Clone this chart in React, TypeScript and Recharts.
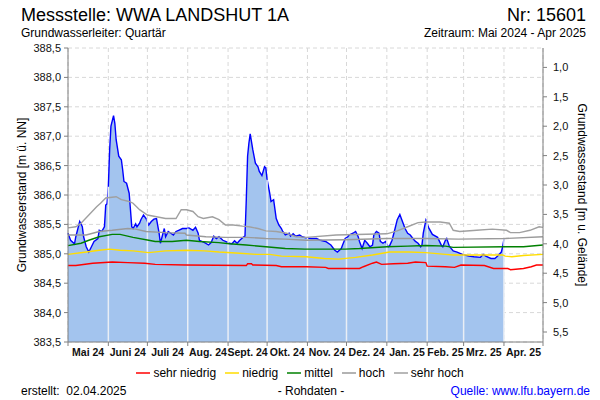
import { Area, CartesianGrid, ComposedChart, Legend, Line, ReferenceLine, XAxis, YAxis } from "recharts"

// Tag 0 = 01.05.2024, Werte in m ü. NN
const monatsAnfang = [0, 31, 61, 92, 123, 153, 184, 214, 245, 276, 304, 335, 365]
const monatsNamen = ["Mai 24", "Juni 24", "Juli 24", "Aug. 24", "Sept. 24", "Okt. 24", "Nov. 24", "Dez. 24", "Jan. 25", "Feb. 25", "Mrz. 25", "Apr. 25"]
const nnTicks = [383.5, 384, 384.5, 385, 385.5, 386, 386.5, 387, 387.5, 388, 388.5]
const gelaendeTicks = [1, 1.5, 2, 2.5, 3, 3.5, 4, 4.5, 5, 5.5]
const gelaendeHoehe = 389.17
const legendenReihenfolge = ["sehr niedrig", "niedrig", "mittel", "hoch", "sehr hoch"]

const messwerte: [number, number][] = [
  [0, 385.35], [2, 385.23], [5, 385.17], [6, 385.29], [9, 385.55], [11, 385.46], [12, 385.29], [14, 385.12],
  [16, 385.03], [18, 385.12], [20, 385.21], [23, 385.26], [24, 385.4], [26, 385.38], [28, 385.46], [29, 385.83],
  [30, 385.85], [31, 386.14], [32, 386.77], [33, 387.17], [35, 387.35], [36, 387.22], [37, 386.94], [39, 386.66],
  [41, 386.6], [42, 386.43], [43, 386.23], [45, 386.2], [47, 386.03], [48, 385.75], [49, 385.46], [50, 385.43],
  [52, 385.51], [53, 385.46], [55, 385.52], [56, 385.58], [58, 385.66], [60, 385.6], [62, 385.49], [64, 385.55],
  [66, 385.59], [68, 385.6], [70, 385.35], [71, 385.18], [73, 385.35], [74, 385.43], [75, 385.29], [77, 385.38],
  [79, 385.35], [81, 385.32], [83, 385.38], [85, 385.4], [88, 385.43], [91, 385.43], [93, 385.44], [96, 385.4],
  [98, 385.45], [100, 385.35], [101, 385.23], [105, 385.19], [108, 385.15], [110, 385.19], [112, 385.3], [114, 385.26],
  [116, 385.29], [119, 385.23], [121, 385.21], [124, 385.18], [126, 385.17], [128, 385.22], [130, 385.18], [132, 385.23],
  [135, 385.29], [136, 385.3], [137, 385.92], [138, 386.66], [139, 386.88], [140, 387.04], [142, 386.77], [144, 386.54],
  [146, 386.48], [147, 386.4], [149, 386.33], [151, 386.48], [152, 386.46], [153, 386.26], [155, 386.03], [156, 385.89],
  [158, 385.92], [160, 385.6], [162, 385.49], [164, 385.43], [165, 385.38], [167, 385.32], [170, 385.35], [171, 385.3],
  [173, 385.34], [175, 385.3], [178, 385.32], [180, 385.29], [183, 385.27], [187, 385.26], [191, 385.26], [194, 385.23],
  [198, 385.21], [202, 385.15], [205, 385.06], [207, 385.03], [210, 385.09], [211, 385.15], [213, 385.26], [215, 385.29],
  [216, 385.32], [219, 385.35], [221, 385.38], [223, 385.29], [224, 385.21], [226, 385.09], [228, 385.23], [230, 385.18],
  [232, 385.12], [234, 385.15], [235, 385.32], [237, 385.38], [239, 385.35], [240, 385.21], [242, 385.18], [244, 385.21],
  [246, 385.12], [247, 385.13], [249, 385.23], [251, 385.4], [253, 385.58], [255, 385.67], [257, 385.55], [259, 385.43],
  [261, 385.35], [263, 385.32], [265, 385.26], [267, 385.21], [269, 385.18], [271, 385.12], [272, 385.15], [273, 385.35],
  [275, 385.57], [277, 385.45], [280, 385.33], [284, 385.28], [287, 385.14], [288, 385.12], [290, 385.23], [291, 385.26],
  [293, 385.13], [296, 385.05], [299, 385.03], [303, 384.99], [308, 384.96], [312, 384.95], [317, 384.94], [319, 384.99],
  [321, 384.96], [325, 384.92], [328, 384.92], [330, 384.96], [333, 385.03], [334, 385.12], [335, 385.25],
]

const sehrHoch: [number, number][] = [
  [0, 385.44], [6, 385.46], [10, 385.52], [16, 385.66], [22, 385.8], [25, 385.86], [29, 385.95], [37, 385.97],
  [41, 385.92], [47, 385.89], [50, 385.86], [55, 385.75], [61, 385.66], [68, 385.63], [75, 385.6], [83, 385.6],
  [87, 385.75], [91, 385.75], [96, 385.72], [100, 385.63], [104, 385.6], [111, 385.63], [116, 385.58], [121, 385.49],
  [127, 385.49], [134, 385.47], [139, 385.46], [146, 385.43], [152, 385.39], [160, 385.38], [168, 385.35], [175, 385.29],
  [183, 385.28], [206, 385.32], [245, 385.34], [253, 385.39], [261, 385.46], [269, 385.53], [275, 385.54], [286, 385.54],
  [293, 385.52], [296, 385.4], [301, 385.38], [314, 385.4], [326, 385.42], [337, 385.4], [340, 385.36], [347, 385.36],
  [355, 385.4], [362, 385.46], [365, 385.45],
]

const hoch: [number, number][] = [
  [0, 385.32], [14, 385.32], [24, 385.38], [34, 385.4], [46, 385.43], [52, 385.42], [60, 385.38], [75, 385.36],
  [90, 385.35], [91, 385.32], [106, 385.29], [121, 385.28], [137, 385.28], [152, 385.26], [167, 385.25], [183, 385.23],
  [213, 385.24], [245, 385.26], [275, 385.26], [300, 385.25], [336, 385.26], [365, 385.29],
]

const mittel: [number, number][] = [
  [0, 385.14], [10, 385.18], [16, 385.23], [24, 385.29], [34, 385.33], [40, 385.33], [50, 385.28], [62, 385.23],
  [67, 385.21], [80, 385.21], [91, 385.23], [101, 385.21], [116, 385.19], [124, 385.17], [137, 385.15], [152, 385.12],
  [167, 385.09], [182, 385.08], [213, 385.08], [224, 385.09], [245, 385.12], [261, 385.13], [275, 385.14], [290, 385.13],
  [296, 385.11], [336, 385.12], [350, 385.12], [365, 385.15],
]

const niedrig: [number, number][] = [
  [0, 384.99], [14, 385.03], [24, 385.06], [32, 385.08], [40, 385.06], [50, 385.05], [62, 385.02], [75, 385.05],
  [91, 385.06], [105, 385.05], [116, 385.03], [132, 385.01], [145, 384.99], [155, 384.99], [164, 384.96], [183, 384.95],
  [197, 384.92], [208, 384.91], [221, 384.94], [234, 384.98], [247, 385.03], [262, 385.03], [275, 385.02], [290, 384.99],
  [296, 384.98], [334, 384.98], [336, 384.96], [341, 384.95], [350, 384.97], [365, 384.99],
]

const sehrNiedrig: [number, number][] = [
  [0, 384.8], [6, 384.8], [19, 384.84], [34, 384.86], [46, 384.85], [59, 384.84], [67, 384.82], [90, 384.81],
  [137, 384.8], [138, 384.83], [141, 384.83], [142, 384.81], [160, 384.8], [164, 384.78], [183, 384.78], [198, 384.77],
  [200, 384.75], [224, 384.75], [227, 384.78], [234, 384.84], [237, 384.86], [241, 384.82], [250, 384.83], [261, 384.84],
  [267, 384.86], [275, 384.85], [276, 384.79], [290, 384.78], [297, 384.77], [302, 384.81], [320, 384.8], [327, 384.75],
  [338, 384.75], [340, 384.73], [350, 384.75], [356, 384.78], [360, 384.81], [365, 384.81],
]

const FONT = "'Liberation Sans', Arial, sans-serif"
// plot is 600 - 68 - 57 px wide for 365 days
const PX_PRO_TAG = 475 / 365

const rows = (pts: [number, number][]) => pts.map(([tag, wert]) => ({ tag, wert }))
const komma = (v: number) => v.toFixed(1).replace(".", ",")

// height of the blue area at the start of a month, for the light separators drawn over it
const pegelAm = (tag: number) => {
  let w = messwerte[0][1]
  for (const [t, v] of messwerte) if (t <= tag) w = v
  return w
}
const letzterTag = messwerte[messwerte.length - 1][0]

// month name centred between two month-start ticks
function MonatsTick({ x, y, payload }: any) {
  const i = monatsAnfang.indexOf(payload.value)
  if (i < 0 || i >= monatsNamen.length) return null
  const mitte = ((monatsAnfang[i + 1] - monatsAnfang[i]) / 2) * PX_PRO_TAG
  return (
    <text x={x + mitte} y={y + 8} textAnchor="middle" fontSize={10.5} fontWeight="bold" fill="#111" fontFamily={FONT}>
      {monatsNamen[i]}
    </text>
  )
}

function Legende({ payload }: any) {
  const items = legendenReihenfolge.map((n) => (payload || []).find((p: any) => p.value === n)).filter(Boolean)
  return (
    <div style={{ display: "flex", justifyContent: "center", alignItems: "center", gap: 9, fontSize: 12, fontFamily: FONT, color: "#000" }}>
      {items.map((p: any) => (
        <span key={p.value} style={{ display: "flex", alignItems: "center" }}>
          <svg width={17} height={10}>
            <line x1={0} x2={14} y1={5} y2={5} stroke={p.color} strokeWidth={1.5} />
          </svg>
          {p.value}
        </span>
      ))}
    </div>
  )
}

export default function App() {
  const tickStyle = { fontSize: 11, fill: "#111", fontFamily: FONT }
  return (
    <div style={{ position: "absolute", left: 0, top: 0, width: 600, height: 400, background: "#fff", fontFamily: FONT }}>
      <ComposedChart width={600} height={400} margin={{ top: 48, right: 0, bottom: 36, left: 0 }}>
        <CartesianGrid xAxisId="monat" yAxisId="nn" stroke="#d8d8d8" strokeDasharray="4 3" />
        <XAxis
          xAxisId="monat"
          dataKey="tag"
          type="number"
          domain={[0, 365]}
          ticks={monatsAnfang}
          interval={0}
          height={22}
          tick={<MonatsTick />}
          tickSize={4}
          stroke="#808080"
        />
        <YAxis
          yAxisId="nn"
          type="number"
          domain={[383.5, 388.5]}
          ticks={nnTicks}
          tickFormatter={komma}
          width={68}
          tickSize={4}
          tickMargin={3}
          stroke="#808080"
          tick={tickStyle}
          label={{ value: "Grundwasserstand [m ü. NN]", angle: -90, position: "insideLeft", offset: 22, style: { textAnchor: "middle", fontSize: 12, fill: "#000", fontFamily: FONT } }}
        />
        <YAxis
          yAxisId="gel"
          orientation="right"
          type="number"
          reversed
          allowDataOverflow
          domain={[gelaendeHoehe - 388.5, gelaendeHoehe - 383.5]}
          ticks={gelaendeTicks}
          tickFormatter={komma}
          width={57}
          tickSize={4}
          tickMargin={6}
          stroke="#808080"
          tick={tickStyle}
          label={{ value: "Grundwasserstand [m u. Gelände]", angle: 90, position: "insideRight", offset: 18, style: { textAnchor: "middle", fontSize: 12, fill: "#000", fontFamily: FONT } }}
        />
        <Area
          xAxisId="monat"
          yAxisId="nn"
          data={rows(messwerte)}
          dataKey="wert"
          name="Messwert"
          type="linear"
          stroke="#0000ff"
          strokeWidth={1.4}
          fill="#a3c4ee"
          fillOpacity={1}
          legendType="none"
          isAnimationActive={false}
          dot={false}
        />
        {monatsAnfang
          .filter((t) => t > 0 && t <= letzterTag)
          .map((t) => (
            <ReferenceLine
              key={t}
              xAxisId="monat"
              yAxisId="nn"
              segment={[{ x: t, y: 383.5 }, { x: t, y: pegelAm(t) }]}
              stroke="#e9eef5"
              strokeWidth={1.5}
            />
          ))}
        <Line xAxisId="monat" yAxisId="nn" data={rows(sehrNiedrig)} dataKey="wert" name="sehr niedrig" stroke="#ff0000" strokeWidth={1.4} dot={false} isAnimationActive={false} />
        <Line xAxisId="monat" yAxisId="nn" data={rows(niedrig)} dataKey="wert" name="niedrig" stroke="#ffdd00" strokeWidth={1.4} dot={false} isAnimationActive={false} />
        <Line xAxisId="monat" yAxisId="nn" data={rows(mittel)} dataKey="wert" name="mittel" stroke="#008000" strokeWidth={1.4} dot={false} isAnimationActive={false} />
        <Line xAxisId="monat" yAxisId="nn" data={rows(hoch)} dataKey="wert" name="hoch" stroke="#9a9a9a" strokeWidth={1.4} dot={false} isAnimationActive={false} />
        <Line xAxisId="monat" yAxisId="nn" data={rows(sehrHoch)} dataKey="wert" name="sehr hoch" stroke="#a0a0a0" strokeWidth={1.4} dot={false} isAnimationActive={false} />
        <Legend layout="horizontal" verticalAlign="middle" align="center" wrapperStyle={{ top: 366, left: 0, width: 600 }} content={Legende} />
      </ComposedChart>
      <svg width={600} height={400} style={{ position: "absolute", left: 0, top: 0, pointerEvents: "none" }} fontFamily={FONT}>
        <text x={21} y={21} fontSize={18}>Messstelle: WWA LANDSHUT 1A</text>
        <text x={586} y={21} fontSize={18} textAnchor="end">Nr: 15601</text>
        <text x={21} y={37} fontSize={12}>Grundwasserleiter: Quartär</text>
        <text x={586} y={37} fontSize={12} textAnchor="end">Zeitraum: Mai 2024 - Apr 2025</text>
        <text x={21} y={395} fontSize={12}>{"erstellt:\u00a0 02.04.2025"}</text>
        <text x={311} y={395} fontSize={12} textAnchor="middle">- Rohdaten -</text>
        <text x={590} y={395} fontSize={12} textAnchor="end" fill="#0000ff">Quelle: www.lfu.bayern.de</text>
      </svg>
    </div>
  )
}
